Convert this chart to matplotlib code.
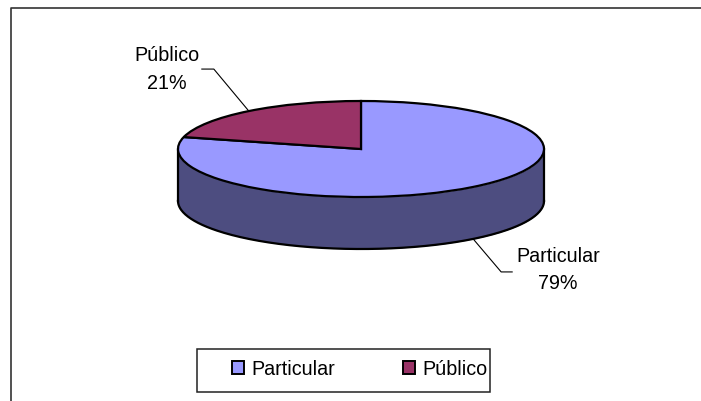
import numpy as np
import matplotlib
matplotlib.use("Agg")
import matplotlib.pyplot as plt
from matplotlib.lines import Line2D
from matplotlib.patches import Rectangle

categories = ["Particular", "Público"]
values = [79, 21]
percent_labels = ["79%", "21%"]
top_colors = ["#9999FF", "#993366"]
side_colors = ["#4D4D80", "#4D1A33"]

W, H = 701, 402
plt.rcParams["font.family"] = ["Liberation Sans", "DejaVu Sans"]
fig = plt.figure(figsize=(W / 100, H / 100), dpi=100, facecolor="white")

def fx(x): return x / W
def fy(y): return 1 - y / H

fig.add_artist(Line2D([fx(10.7), fx(10.7), fx(W)], [0, fy(8.7), fy(8.7)],
                      color="#333333", lw=1.2))

cx, cy, rx, ry = 361, 150, 183, 48
rim = 52 / ry
ax = fig.add_axes([fx(cx - rx), fy(cy + ry + rim * ry), 2 * rx / W, (2 * ry + rim * ry) / H])

total = sum(values)
start = 90 + 360 * values[1] / total

edge = dict(edgecolor="black", linewidth=1.6, clip_on=False)

t = np.linspace(np.pi, 2 * np.pi, 200)
ax.fill_between(np.cos(t), np.sin(t), np.sin(t) - rim, color=side_colors[0], lw=0, zorder=1)
ax.plot(np.cos(t), np.sin(t) - rim, color="black", lw=1.6, zorder=2, clip_on=False)
ax.plot([-1, -1], [0, -rim], color="black", lw=1.6, zorder=2, clip_on=False)
ax.plot([1, 1], [0, -rim], color="black", lw=1.6, zorder=2, clip_on=False)

wedges, _ = ax.pie(values, colors=top_colors, startangle=start, counterclock=True,
                   radius=1, wedgeprops=edge)
for w in wedges:
    w.set_zorder(3)

ax.set_aspect("auto")
ax.set_xlim(-1, 1)
ax.set_ylim(-1 - rim, 1)
ax.axis("off")
fig.canvas.draw()

FS = 14.2
layout = [
    dict(off_mid=(28, 33), off_end=(39, 33), label=(558, 256), pct=(558, 283.5), drop=rim),
    dict(off_mid=(-35, -42), off_end=(-47, -42), label=(166.5, 55.5), pct=(166.5, 83.5), drop=0),
]
for w, name, pct, lay in zip(wedges, categories, percent_labels, layout):
    mid = np.deg2rad((w.theta1 + w.theta2) / 2)
    px, py = ax.transData.transform((np.cos(mid), np.sin(mid) - lay["drop"]))
    py = H - py
    xs = [px, px + lay["off_mid"][0], px + lay["off_end"][0]]
    ys = [py, py + lay["off_mid"][1], py + lay["off_end"][1]]
    fig.add_artist(Line2D([fx(v) for v in xs], [fy(v) for v in ys], color="black", lw=0.8))
    fig.text(fx(lay["label"][0]), fy(lay["label"][1]), name, ha="center", va="center",
             fontsize=FS, color="black")
    fig.text(fx(lay["pct"][0]), fy(lay["pct"][1]), pct, ha="center", va="center",
             fontsize=FS, color="black")

# legend frame plus frameless legend content
fig.add_artist(Rectangle((fx(196.5), fy(393)), 293.5 / W, 43 / H, transform=fig.transFigure,
                         facecolor="white", edgecolor="#222222", linewidth=1.1))
handles = [Rectangle((0, 0), 1, 1, facecolor=c, edgecolor="black", linewidth=1.4) for c in top_colors]
leg = fig.legend(handles, categories, loc="center left", bbox_to_anchor=(fx(232), fy(370)),
                 ncol=2, fontsize=FS, frameon=False, borderpad=0, handlelength=0.6,
                 handleheight=0.6, handletextpad=0.38, columnspacing=3.45, borderaxespad=0)
leg.set_zorder(5)

fig.savefig("out.png", dpi=100, facecolor="white")
